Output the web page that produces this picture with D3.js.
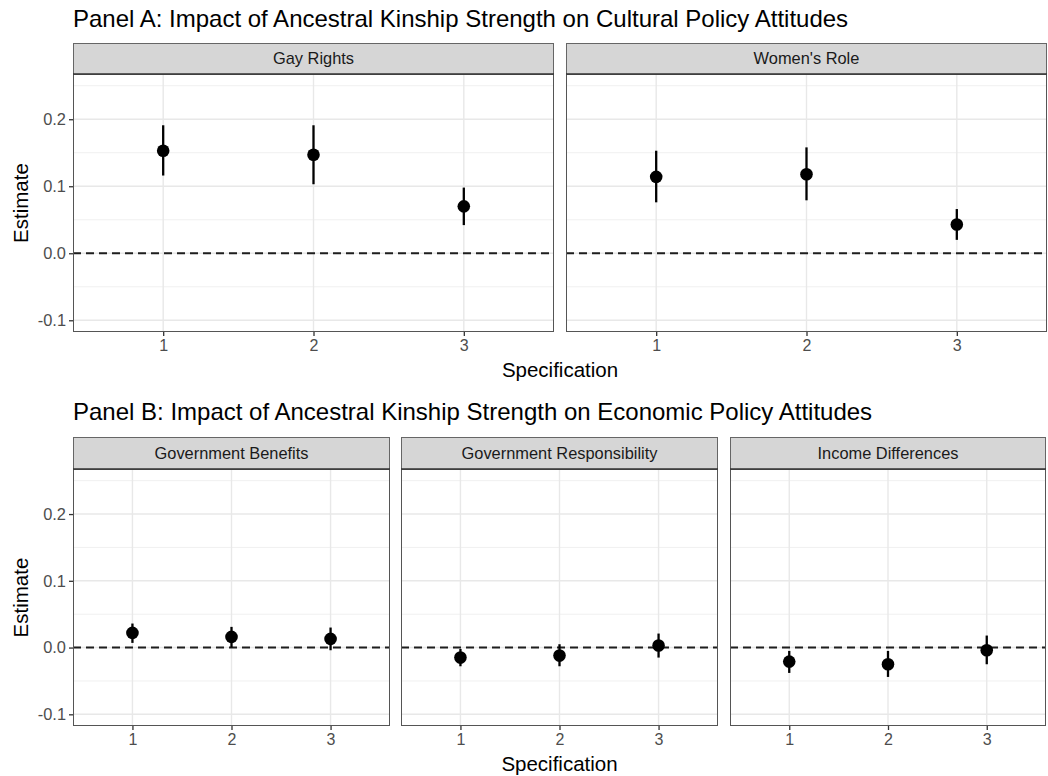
<!DOCTYPE html>
<html>
<head>
<meta charset="utf-8">
<script src="https://cdn.jsdelivr.net/npm/d3@7"></script>
<style>
  body { margin: 0; background: #fff; }
  text { font-family: "Liberation Sans", Arial, Helvetica, sans-serif; }
</style>
</head>
<body>
<script>
// specifications on the x axis
let specs = [1, 2, 3];

// Panel A: cultural policy attitudes
let gayRightsEst = [0.153, 0.147, 0.070];
let gayRightsLo = [0.116, 0.103, 0.042];
let gayRightsHi = [0.191, 0.191, 0.098];

let womensRoleEst = [0.114, 0.118, 0.043];
let womensRoleLo = [0.076, 0.079, 0.020];
let womensRoleHi = [0.153, 0.158, 0.066];

// Panel B: economic policy attitudes
let govBenefitsEst = [0.022, 0.016, 0.013];
let govBenefitsLo = [0.007, 0.000, -0.004];
let govBenefitsHi = [0.036, 0.031, 0.030];

let govRespEst = [-0.015, -0.012, 0.003];
let govRespLo = [-0.028, -0.028, -0.015];
let govRespHi = [-0.002, 0.005, 0.021];

let incomeDiffEst = [-0.021, -0.025, -0.004];
let incomeDiffLo = [-0.038, -0.044, -0.025];
let incomeDiffHi = [-0.005, -0.005, 0.018];

let yTicks = [-0.1, 0.0, 0.1, 0.2];
let yTickLabels = ["-0.1", "0.0", "0.1", "0.2"];
let yMinorTicks = [-0.05, 0.05, 0.15, 0.25];
let yLimits = [-0.1, 0.25];

function facet(name, est, lo, hi) {
    return { name, rows: specs.map((s, i) => ({ spec: s, est: est[i], lo: lo[i], hi: hi[i] })) };
}

let panelA = {
    title: "Panel A: Impact of Ancestral Kinship Strength on Cultural Policy Attitudes",
    titleY: 27, stripTop: 43, top: 74, bottom: 332,
    facets: [facet("Gay Rights", gayRightsEst, gayRightsLo, gayRightsHi),
             facet("Women's Role", womensRoleEst, womensRoleLo, womensRoleHi)],
    xs: [[73, 554], [566, 1047]]
};

let panelB = {
    title: "Panel B: Impact of Ancestral Kinship Strength on Economic Policy Attitudes",
    titleY: 420, stripTop: 437, top: 469, bottom: 726,
    facets: [facet("Government Benefits", govBenefitsEst, govBenefitsLo, govBenefitsHi),
             facet("Government Responsibility", govRespEst, govRespLo, govRespHi),
             facet("Income Differences", incomeDiffEst, incomeDiffLo, incomeDiffHi)],
    xs: [[73, 390], [401, 718], [730, 1046]]
};

let svg = d3.select("body").append("svg").attr("width", 1048).attr("height", 776);

function drawFacet(g, f, x0, x1, p, showY) {
    let pad = (yLimits[1] - yLimits[0]) * 0.05;
    let scaleY = d3.scaleLinear([yLimits[0] - pad, yLimits[1] + pad], [p.bottom, p.top]);
    let scaleX = d3.scalePoint(specs, [x0, x1]).padding(0.6);

    g.append("rect").attr("x", x0).attr("y", p.top).attr("width", x1 - x0).attr("height", p.bottom - p.top)
        .attr("fill", "#fff");

    // grid
    g.selectAll("line.minor").data(yMinorTicks).enter().append("line")
        .attr("x1", x0).attr("x2", x1)
        .attr("y1", d => scaleY(d)).attr("y2", d => scaleY(d))
        .attr("stroke", "#f0f0f0").attr("stroke-width", 1);
    g.selectAll("line.major").data(yTicks).enter().append("line")
        .attr("x1", x0).attr("x2", x1)
        .attr("y1", d => scaleY(d)).attr("y2", d => scaleY(d))
        .attr("stroke", "#e8e8e8").attr("stroke-width", 1.4);
    g.selectAll("line.vmajor").data(specs).enter().append("line")
        .attr("x1", d => scaleX(d)).attr("x2", d => scaleX(d))
        .attr("y1", p.top).attr("y2", p.bottom)
        .attr("stroke", "#e8e8e8").attr("stroke-width", 1.4);

    // zero line
    g.append("line")
        .attr("x1", x0).attr("x2", x1)
        .attr("y1", scaleY(0)).attr("y2", scaleY(0))
        .attr("stroke", "#1e1e1e").attr("stroke-width", 2).attr("stroke-dasharray", "8,5");

    // estimates
    g.selectAll("line.ci").data(f.rows).enter().append("line")
        .attr("x1", d => scaleX(d.spec)).attr("x2", d => scaleX(d.spec))
        .attr("y1", d => scaleY(d.lo)).attr("y2", d => scaleY(d.hi))
        .attr("stroke", "#000").attr("stroke-width", 2.3);
    g.selectAll("circle").data(f.rows).enter().append("circle")
        .attr("cx", d => scaleX(d.spec)).attr("cy", d => scaleY(d.est))
        .attr("r", 6.3).attr("fill", "#000");

    // border
    g.append("rect").attr("x", x0 + 0.5).attr("y", p.top).attr("width", x1 - x0 - 1).attr("height", p.bottom - p.top - 0.5)
        .attr("fill", "none").attr("stroke", "#555").attr("stroke-width", 1);

    // strip
    g.append("rect").attr("x", x0 + 0.5).attr("y", p.stripTop + 0.5).attr("width", x1 - x0 - 1).attr("height", p.top - p.stripTop)
        .attr("fill", "#d6d6d6").attr("stroke", "#666").attr("stroke-width", 1);
    g.append("line").attr("x1", x0).attr("x2", x1).attr("y1", p.top).attr("y2", p.top)
        .attr("stroke", "#333").attr("stroke-width", 1.5);
    g.append("text")
        .attr("x", (x0 + x1) / 2).attr("y", (p.stripTop + p.top) / 2 + 5.5)
        .attr("text-anchor", "middle")
        .style("font-size", "16.4px").attr("fill", "#1a1a1a")
        .text(f.name);

    // x axis
    let ax = g.append("g").attr("transform", `translate(0, ${p.bottom})`)
        .call(d3.axisBottom(scaleX).tickSize(4).tickPadding(4));
    ax.select(".domain").remove();
    ax.selectAll("line").attr("stroke", "#333").attr("stroke-width", 1.3);
    ax.selectAll("text").style("font-size", "16px").attr("fill", "#4d4d4d").attr("font-family", null);

    if (showY) {
        let ay = g.append("g").attr("transform", `translate(${x0}, 0)`)
            .call(d3.axisLeft(scaleY).tickValues(yTicks).tickFormat((d, i) => yTickLabels[i]).tickSize(4).tickPadding(3));
        ay.select(".domain").remove();
        ay.selectAll("line").attr("stroke", "#333").attr("stroke-width", 1.3);
        ay.selectAll("text").style("font-size", "16.4px").attr("fill", "#4d4d4d").attr("font-family", null);
    }
}

function drawPanel(p) {
    svg.append("text").attr("x", p.xs[0][0]).attr("y", p.titleY)
        .style("font-size", "24px").attr("fill", "#000")
        .text(p.title);
    p.facets.forEach((f, i) => drawFacet(svg.append("g"), f, p.xs[i][0], p.xs[i][1], p, i === 0));

    let left = p.xs[0][0], right = p.xs[p.xs.length - 1][1];
    svg.append("text")
        .attr("x", (left + right) / 2).attr("y", p.bottom + 45)
        .attr("text-anchor", "middle")
        .style("font-size", "20.5px").attr("fill", "#000")
        .text("Specification");
    let cy = (p.top + p.bottom) / 2;
    svg.append("text")
        .attr("transform", `translate(28, ${cy}) rotate(-90)`)
        .attr("text-anchor", "middle")
        .style("font-size", "20.5px").attr("fill", "#000")
        .text("Estimate");
}

drawPanel(panelA);
drawPanel(panelB);
</script>
</body>
</html>
